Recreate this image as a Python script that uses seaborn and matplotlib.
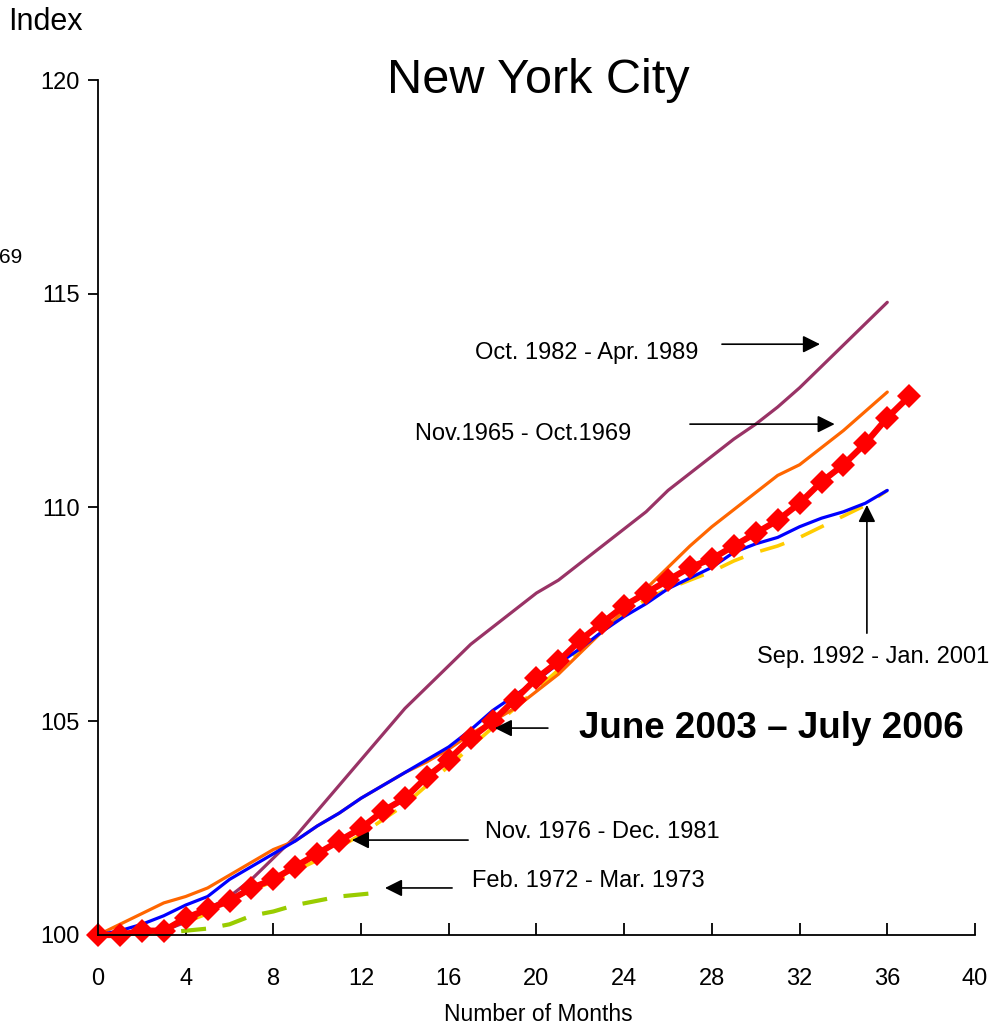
import numpy as np
import pandas as pd
import seaborn as sns
from matplotlib import pyplot as plt

# %%
# index values, month 0 = 100
months_36 = list(range(37))
months_37 = list(range(38))
months_13 = list(range(14))

june2003_jul2006 = [100.0, 100.0, 100.1, 100.1, 100.4, 100.6, 100.8, 101.1, 101.3, 101.6,
                    101.9, 102.2, 102.5, 102.9, 103.2, 103.7, 104.1, 104.6, 105.0, 105.5,
                    106.0, 106.4, 106.9, 107.3, 107.7, 108.0, 108.3, 108.6, 108.8, 109.1,
                    109.4, 109.7, 110.1, 110.6, 111.0, 111.5, 112.1, 112.6]
oct1982_apr1989 = [100.0, 100.0, 100.05, 100.1, 100.3, 100.6, 100.9, 101.3, 101.8, 102.3,
                   102.9, 103.5, 104.1, 104.7, 105.3, 105.8, 106.3, 106.8, 107.2, 107.6,
                   108.0, 108.3, 108.7, 109.1, 109.5, 109.9, 110.4, 110.8, 111.2, 111.6,
                   111.95, 112.35, 112.8, 113.3, 113.8, 114.3, 114.8]
nov1965_oct1969 = [100.0, 100.25, 100.5, 100.75, 100.9, 101.1, 101.4, 101.7, 102.0, 102.2,
                   102.55, 102.85, 103.2, 103.5, 103.8, 104.05, 104.35, 104.7, 105.0, 105.3,
                   105.7, 106.1, 106.6, 107.1, 107.6, 108.1, 108.6, 109.1, 109.55, 109.95,
                   110.35, 110.75, 111.0, 111.4, 111.8, 112.25, 112.7]
sep1992_jan2001 = [100.0, 100.1, 100.25, 100.45, 100.7, 100.9, 101.3, 101.6, 101.9, 102.2,
                   102.55, 102.85, 103.2, 103.5, 103.8, 104.1, 104.4, 104.8, 105.25, 105.6,
                   105.95, 106.35, 106.7, 107.1, 107.45, 107.75, 108.1, 108.35, 108.6, 108.95,
                   109.15, 109.3, 109.55, 109.75, 109.9, 110.1, 110.4]
nov1976_dec1981 = [100.0, 100.0, 100.05, 100.1, 100.3, 100.5, 100.8, 101.05, 101.25, 101.5,
                   101.75, 102.05, 102.35, 102.7, 103.05, 103.5, 103.95, 104.4, 104.85, 105.3,
                   105.75, 106.2, 106.7, 107.1, 107.5, 107.85, 108.1, 108.3, 108.5, 108.75,
                   108.95, 109.1, 109.3, 109.55, 109.8, 110.05, 110.4]
feb1972_mar1973 = [100.0, 100.0, 100.0, 100.05, 100.1, 100.15, 100.25, 100.45, 100.55, 100.7,
                   100.8, 100.9, 100.95, 101.0]

x_ticks = list(range(0, 41, 4))
y_ticks = [100, 105, 110, 115, 120]

# %%
sns.set_style('ticks')
plt.rcParams['font.family'] = ['Liberation Sans', 'DejaVu Sans']
plt.rcParams['text.color'] = 'black'
plt.rcParams['xtick.color'] = 'black'
plt.rcParams['ytick.color'] = 'black'

fig = plt.figure(figsize=(9.96, 10.27), dpi=100)
ax = fig.add_axes([0.0984, 0.0896, 0.8805, 0.8325])

sns.lineplot(x=months_36, y=nov1976_dec1981, color='#FFCC00', lw=2.6,
             linestyle=(0, (7, 5)), ax=ax)
sns.lineplot(x=months_13, y=feb1972_mar1973, color='#99CC00', lw=3.0,
             linestyle=(0, (6, 4)), ax=ax)
sns.lineplot(x=months_36, y=oct1982_apr1989, color='#993366', lw=2.3, ax=ax)
sns.lineplot(x=months_36, y=nov1965_oct1969, color='#FF6600', lw=2.3, ax=ax)
sns.lineplot(x=months_36, y=sep1992_jan2001, color='#0000FF', lw=2.3, ax=ax)
sns.lineplot(x=months_37, y=june2003_jul2006, color='#FF0000', lw=4.5, marker='D',
             markersize=12.5, markeredgewidth=0, clip_on=False, ax=ax)

ax.set_xlim(0, 40)
ax.set_ylim(100, 120)
ax.set_xticks(x_ticks)
ax.set_yticks(y_ticks)
ax.set_xlabel('')
ax.set_ylabel('')
sns.despine(ax=ax)
for s in ['left', 'bottom']:
    ax.spines[s].set_linewidth(1.3)
    ax.spines[s].set_color('black')
ax.tick_params(axis='x', direction='in', length=9, width=1.3, labelsize=17, pad=24)
ax.tick_params(axis='y', direction='out', length=7, width=1.3, labelsize=17, pad=6)

ax.text(20.1, 120.0, 'New York City', fontsize=35, ha='center', va='center')

arrow = dict(arrowstyle='-|>', color='black', lw=1.2, mutation_scale=26, shrinkA=0, shrinkB=0)
ax.text(22.3, 113.61, 'Oct. 1982 - Apr. 1989', fontsize=17, ha='center', va='center')
ax.annotate('', xy=(32.93, 113.82), xytext=(28.46, 113.82), arrowprops=arrow)
ax.text(19.38, 111.72, 'Nov.1965 - Oct.1969', fontsize=17, ha='center', va='center')
ax.annotate('', xy=(33.6, 111.95), xytext=(27.0, 111.95), arrowprops=arrow)
ax.text(35.35, 106.5, 'Sep. 1992 - Jan. 2001', fontsize=17, ha='center', va='center')
ax.annotate('', xy=(35.07, 110.06), xytext=(35.07, 107.06), arrowprops=arrow)
ax.text(30.7, 104.82, 'June 2003 \u2013 July 2006', fontsize=26.5, fontweight='bold',
        ha='center', va='center')
ax.annotate('', xy=(18.1, 104.84), xytext=(20.52, 104.84), arrowprops=arrow)
ax.text(22.99, 102.41, 'Nov. 1976 - Dec. 1981', fontsize=17, ha='center', va='center')
ax.annotate('', xy=(11.58, 102.22), xytext=(16.88, 102.22), arrowprops=arrow)
ax.text(22.35, 101.26, 'Feb. 1972 - Mar. 1973', fontsize=17, ha='center', va='center')
ax.annotate('', xy=(13.09, 101.1), xytext=(16.15, 101.1), arrowprops=arrow)

fig.text(0.046, 0.9786, 'Index', fontsize=22, ha='center', va='center')
fig.text(0.022, 0.7488, '69', fontsize=15, ha='right', va='center')
fig.text(0.540, 0.0117, 'Number of Months', fontsize=16.5, ha='center', va='center')

plt.savefig('out.png', dpi=100)
